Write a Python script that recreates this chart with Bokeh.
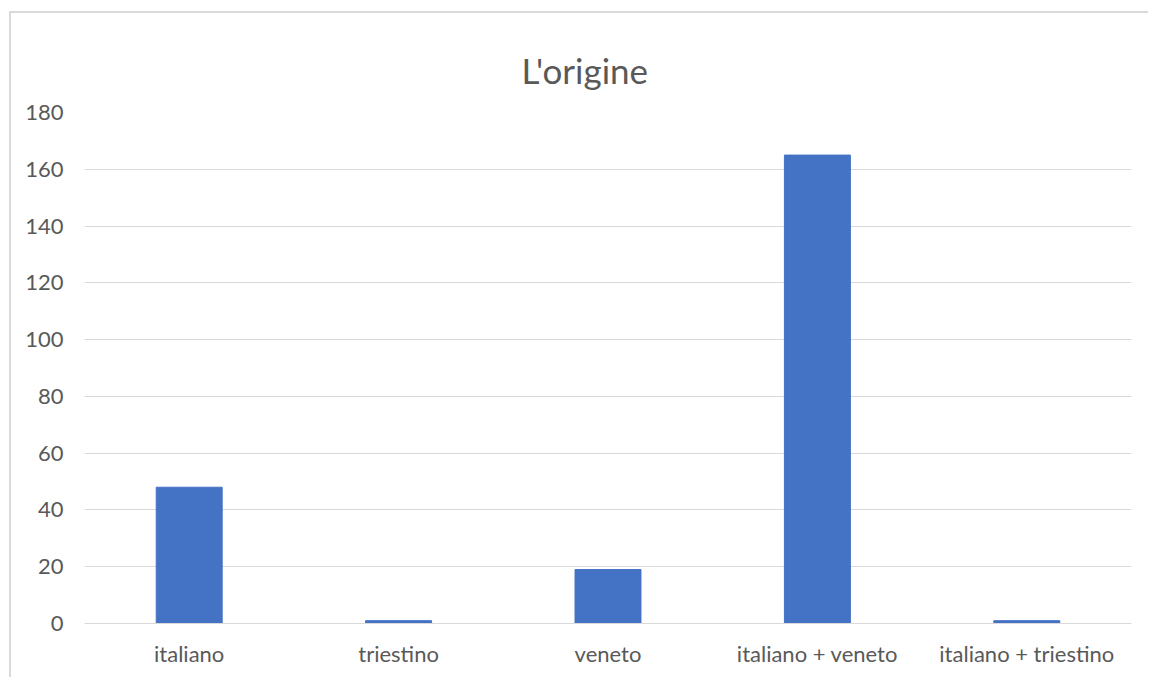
from bokeh.plotting import figure
from bokeh.embed import file_html
from bokeh.resources import INLINE
from bokeh.models import FixedTicker, Range1d

categories = ["italiano", "triestino", "veneto", "italiano + veneto", "italiano + triestino"]
values = [48, 1, 19, 165, 1]
y_ticks = [0, 20, 40, 60, 80, 100, 120, 140, 160, 180]

FONT = "Lato"
GREY = "#595959"

p = figure(x_range=categories, y_range=Range1d(0, 180), width=1139, height=666,
           output_backend="svg", toolbar_location=None,
           min_border_left=73, min_border_right=19, min_border_top=99, min_border_bottom=56)
p.vbar(x=categories, top=values, width=0.315, color="#4472C4", line_color="#4472C4")

p.title.text = "L'origine"
p.title.align = "left"
p.title.offset = 437
p.title.vertical_align = "top"
p.title.text_font = FONT
p.title.text_font_size = "35px"
p.title.text_font_style = "normal"
p.title.text_color = GREY
p.title.standoff = 40

p.yaxis.ticker = FixedTicker(ticks=y_ticks)
p.yaxis.axis_line_color = None
p.yaxis.major_tick_line_color = None
p.yaxis.minor_tick_line_color = None
p.yaxis.major_label_text_font = FONT
p.yaxis.major_label_text_font_size = "22px"
p.yaxis.major_label_text_color = GREY
p.yaxis.major_label_standoff = 15

p.xaxis.axis_line_color = "#d9d9d9"
p.xaxis.major_tick_line_color = None
p.xaxis.minor_tick_line_color = None
p.xaxis.major_label_text_font = FONT
p.xaxis.major_label_text_font_size = "22px"
p.xaxis.major_label_text_color = GREY
p.xaxis.major_label_standoff = 10

p.xgrid.grid_line_color = None
p.ygrid.grid_line_color = "#d9d9d9"
p.ygrid.grid_line_width = 1
p.outline_line_color = None
p.x_range.range_padding = 0

p.styles = {"border-left": "2px solid #d9d9d9", "border-top": "2px solid #d9d9d9",
            "margin-left": "9px", "margin-top": "11px"}

open("out.html", "w").write(file_html(p, INLINE))
